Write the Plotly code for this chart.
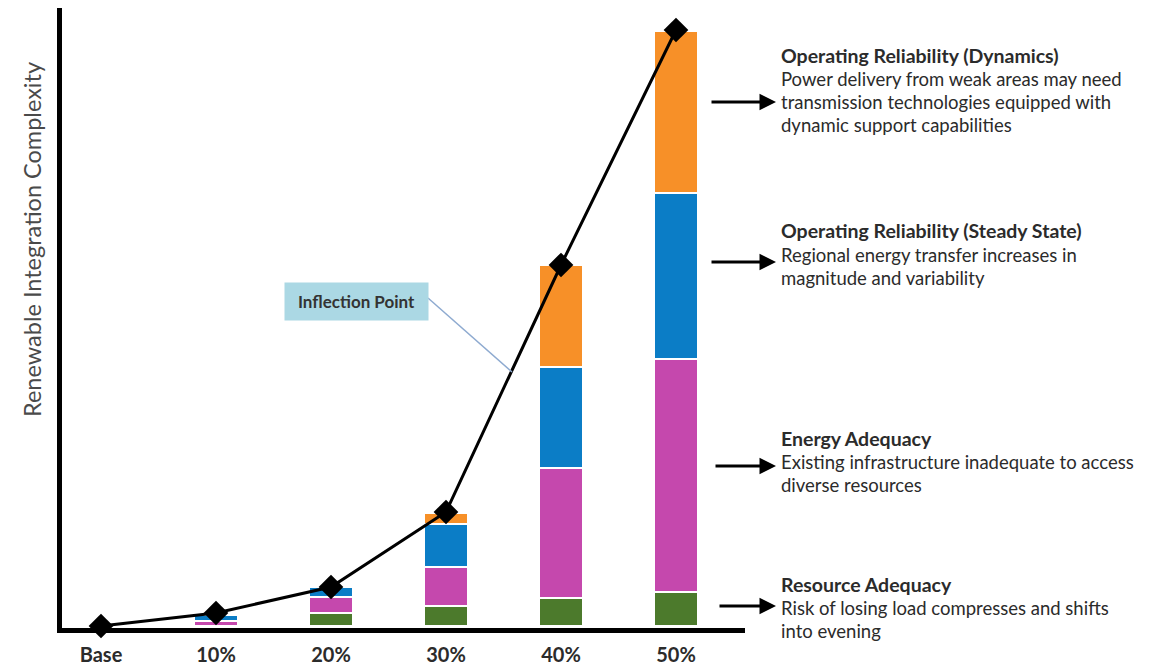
import plotly.graph_objects as go

# ---------------- data ----------------
categories = ["Base", "10%", "20%", "30%", "40%", "50%"]
resource_adequacy = [0, 0, 13, 20, 28, 34]
energy_adequacy = [0, 5, 16, 39, 130, 233]
steady_state = [0, 6, 10, 43, 101, 166]
dynamics = [0, 0, 0, 11, 102, 162]
complexity = [0, 13, 39, 114, 361, 596]

series_names = ["Resource Adequacy", "Energy Adequacy",
                "Operating Reliability (Steady State)", "Operating Reliability (Dynamics)"]
series_colors = ["#4c7a2c", "#c548ad", "#0b7dc6", "#f79028"]

block_titles = ["Operating Reliability (Dynamics)",
                "Operating Reliability (Steady State)",
                "Energy Adequacy",
                "Resource Adequacy"]
block_bodies = [["Power delivery from weak areas may need",
                 "transmission technologies equipped with",
                 "dynamic support capabilities"],
                ["Regional energy transfer increases in",
                 "magnitude and variability"],
                ["Existing infrastructure inadequate to access",
                 "diverse resources"],
                ["Risk of losing load compresses and shifts",
                 "into evening"]]
y_title = "Renewable Integration Complexity"
inflection_label = "Inflection Point"

# ---------------- layout geometry ----------------
W, H = 1153, 669
L, R, T, B = 62, 745, 8, 628
X0, X1 = -0.339, 5.6
Y0, Y1 = -2, 618


def px2x(px):
    return X0 + (px - L) * (X1 - X0) / (R - L)


def px2y(py):
    return Y0 + (B - py) * (Y1 - Y0) / (B - T)


def ppx(px):
    return (px - L) / (R - L)


def ppy(py):
    return (B - py) / (B - T)


fig = go.Figure()
for vals, name, col in zip([resource_adequacy, energy_adequacy, steady_state, dynamics],
                           series_names, series_colors):
    fig.add_trace(go.Bar(x=categories, y=vals, name=name, width=0.38,
                         marker=dict(color=col, line=dict(color="white", width=1.5))))

fig.add_trace(go.Scatter(x=categories, y=complexity, mode="lines+markers",
                         line=dict(color="black", width=3),
                         marker=dict(symbol="diamond", size=19, color="black"),
                         name="Complexity", cliponaxis=False))

ann = []
title_y = [55, 231, 438, 584]
arrow_y = [102, 262, 466, 606]
arrow_x0 = [710, 710, 714, 718]
for i, (t, body) in enumerate(zip(block_titles, block_bodies)):
    ann.append(dict(x=ppx(779), y=ppy(title_y[i]), xref="paper", yref="paper",
                    text="<b>" + t + "</b>", showarrow=False, xanchor="left", yanchor="middle",
                    font=dict(family="Lato", size=19.5, color="#2b2b2b")))
    for j, line in enumerate(body):
        ann.append(dict(x=ppx(779), y=ppy(title_y[i] + 24 + 23 * j), xref="paper", yref="paper",
                        text=line, showarrow=False, xanchor="left", yanchor="middle",
                        font=dict(family="Lato", size=18.5, color="#2b2b2b")))
    ann.append(dict(x=ppx(776), y=ppy(arrow_y[i]), xref="paper", yref="paper", text="",
                    showarrow=True, ax=arrow_x0[i] - 776, ay=0, arrowhead=2, arrowsize=1.1,
                    arrowwidth=3, arrowcolor="black"))

ann.append(dict(x=ppx(32), y=ppy(240), xref="paper", yref="paper", text=y_title,
                showarrow=False, textangle=-90, xanchor="center", yanchor="middle",
                font=dict(family="Lato", size=23.5, color="#4a4a4a")))

ann.append(dict(x=px2x(356), y=px2y(301), xref="x", yref="y",
                text="<b>" + inflection_label + "</b>", showarrow=False,
                bgcolor="#abd8e4", width=137, height=31, borderpad=3,
                font=dict(family="Lato", size=17, color="#333333")))

shapes = [dict(type="line", xref="x", yref="y", x0=px2x(428), y0=px2y(298),
               x1=px2x(512), y1=px2y(372), line=dict(color="#8eaad0", width=1.5))]

fig.update_layout(
    width=W, height=H, barmode="stack", showlegend=False,
    margin=dict(l=L, r=W - R, t=T, b=H - B, pad=0, autoexpand=False),
    plot_bgcolor="white", paper_bgcolor="white",
    annotations=ann, shapes=shapes,
    xaxis=dict(range=[X0, X1], showline=True, linewidth=5, linecolor="black",
               showgrid=False, zeroline=False, ticks="", ticklabelstandoff=5,
               automargin=False,
               tickfont=dict(family="Lato", size=20, color="#2b2b2b", weight="bold")),
    yaxis=dict(range=[Y0, Y1], showline=True, linewidth=5, linecolor="black",
               showgrid=False, zeroline=False, showticklabels=False, ticks="",
               automargin=False),
)

fig.write_html("out.html")
